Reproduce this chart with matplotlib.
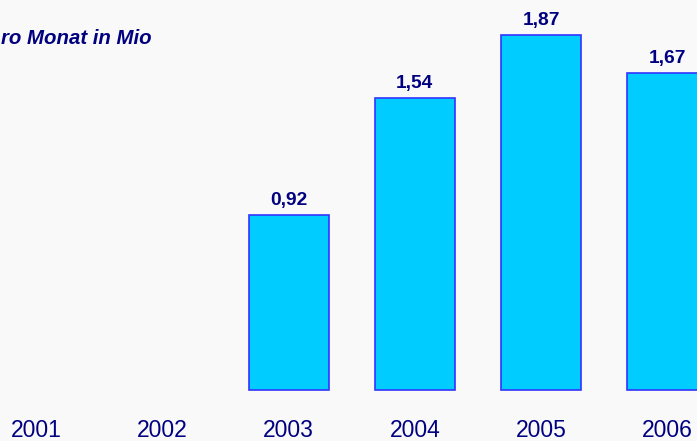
import numpy as np
import matplotlib.pyplot as plt

plt.rcParams['font.family'] = ['Liberation Sans', 'DejaVu Sans']

# Data
years = ["2001", "2002", "2003", "2004", "2005", "2006"]
values = [np.nan, np.nan, 0.92, 1.54, 1.87, 1.67]
title = "ro Monat in Mio"

navy = "#000080"
bar_fill = "#00CCFF"
bar_edge = "#3333FF"
bg = "#F9F9F9"

fig = plt.figure(figsize=(6.97, 4.41), dpi=100, facecolor=bg)
ax = fig.add_axes([0, 0, 1, 1])
ax.set_facecolor(bg)

x = np.arange(len(years))
vals = np.array(values, dtype=float)
mask = ~np.isnan(vals)

ax.bar(x[mask], vals[mask], width=0.633, color=bar_fill,
       edgecolor=bar_edge, linewidth=1.2)

# value labels (German decimal comma)
for xi, v in zip(x[mask], vals[mask]):
    ax.text(xi, v + 0.053, f"{v:.2f}".replace(".", ","), ha="center",
            va="baseline", fontsize=13.8, fontweight="bold", color=navy)

# category labels
for xi, yr in zip(x, years):
    ax.text(xi, -0.2476, yr, ha="center", va="baseline",
            fontsize=16.5, color=navy)

# title (cropped in the original)
fig.text(152 / 697, 1 - 44 / 441, title, ha="right", va="baseline",
         fontsize=14.7, fontweight="bold", fontstyle="italic", color=navy)

ax.set_xlim(-0.285, 5.234)
ax.set_ylim(-0.269, 2.055)
ax.axis("off")

fig.savefig("out.png", dpi=100, facecolor=bg)
